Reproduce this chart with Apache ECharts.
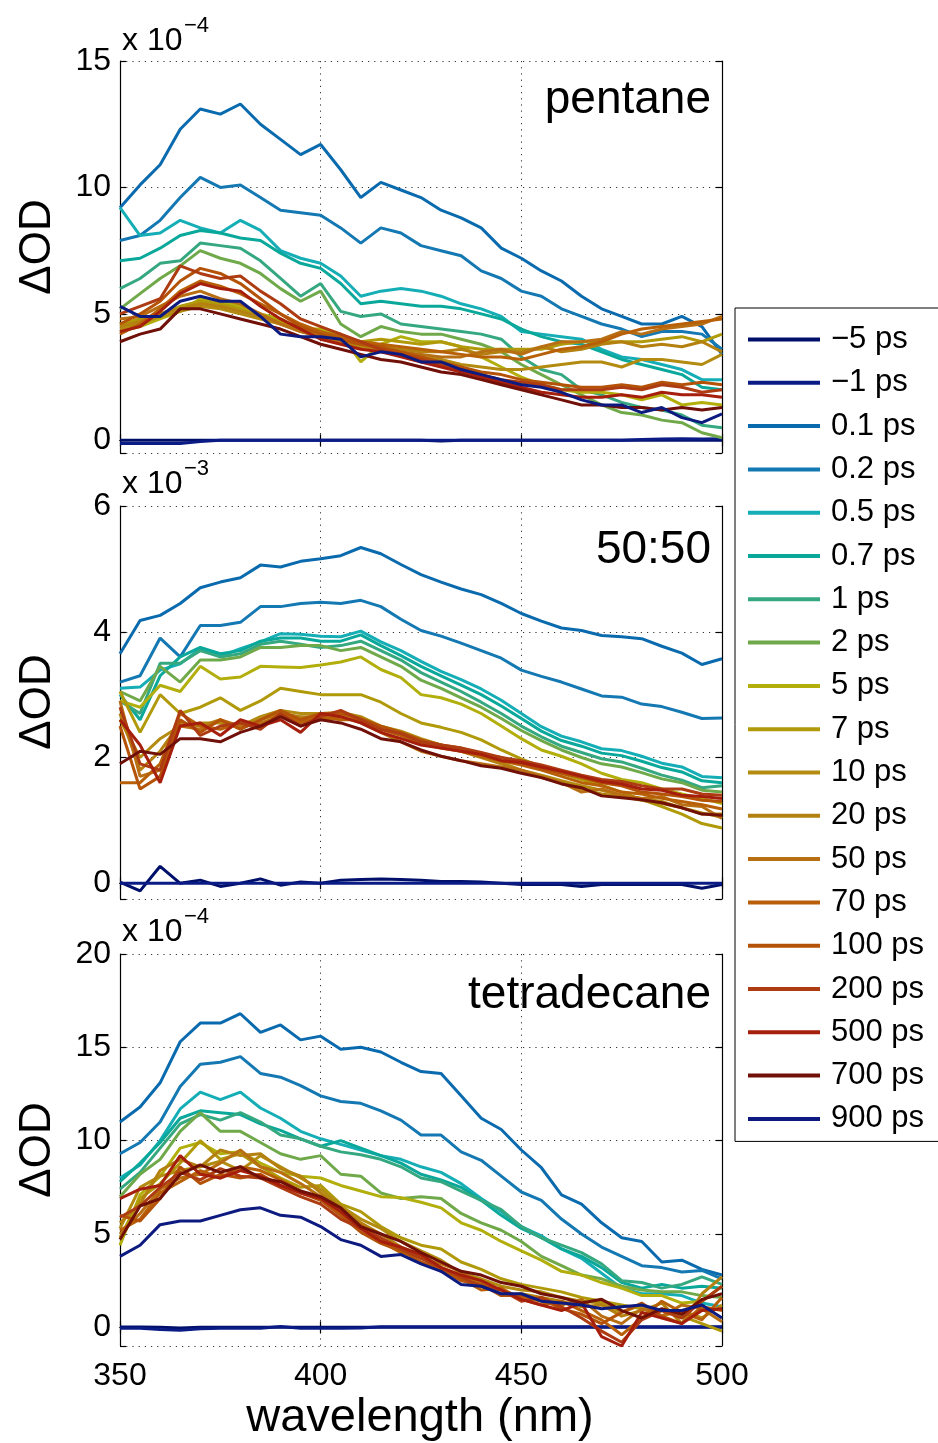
<!DOCTYPE html>
<html><head><meta charset="utf-8">
<script src="https://cdn.jsdelivr.net/npm/echarts@6/dist/echarts.min.js"></script>
<style>html,body{margin:0;padding:0;background:#fff}#c{width:938px;height:1443px}</style>
</head><body><div id="c"></div><script>
// ---------- data ----------
const wavelengths = [350,355,360,365,370,375,380,385,390,395,400,405,410,415,420,425,430,435,440,445,450,455,460,465,470,475,480,485,490,495,500];
const delayLabels = ['\u22125 ps','\u22121 ps','0.1 ps','0.2 ps','0.5 ps','0.7 ps','1 ps','2 ps','5 ps','7 ps','10 ps','20 ps','50 ps','70 ps','100 ps','200 ps','500 ps','700 ps','900 ps'];
const seriesColors = ['#00106a','#0b1b85','#0a6aae','#1478b2','#16aeb6','#0aa89a','#35a880','#70a94a','#b2ae0c','#b09a0a','#b28b10','#b48010','#b86e12','#b86008','#b45308','#ae3c12','#a61e0c','#701008','#0d1a80'];
const panelNames = ['pentane','50:50','tetradecane'];
const panelExponents = ['\u22124','\u22123','\u22124'];
const xTicks = [350,400,450,500];

// pentane (x 1e-4)
const pentane_m5 = [0,0,0,0,0,0,0,0,0,0,0,0,0,0,0,0,-0.03,0,0,0,0,0,0,0,0,0,0,0,0,0,0];
const pentane_m1 = [-0.12,-0.12,-0.12,-0.12,-0.05,0,0,0,0,0,0,0,0,0,0,0,0,0,0,0,0,0,0,0,0,0,0.03,0.05,0.06,0.05,0.06];
const pentane_01 = [9.2,10.1,10.9,12.3,13.1,12.9,13.3,12.5,11.9,11.3,11.7,10.7,9.6,10.2,9.9,9.6,9.1,8.8,8.4,7.6,7.2,6.7,6.3,5.7,5.2,4.9,4.6,4.6,4.9,4.5,3.4];
const pentane_02 = [7.9,8.1,8.7,9.6,10.4,10.0,10.1,9.6,9.1,9.0,8.9,8.4,7.8,8.4,8.2,7.7,7.5,7.3,6.7,6.4,5.9,5.7,5.2,4.9,4.6,4.4,4.1,4.3,4.3,4.2,3.6];
const pentane_05 = [9.2,8.1,8.2,8.7,8.4,8.2,8.7,8.3,7.5,7.2,7.0,6.5,5.7,5.9,6.0,5.9,5.7,5.4,5.2,4.9,4.3,4.2,4.1,4.0,3.6,3.3,3.2,3.0,2.8,2.4,2.4];
const pentane_07 = [7.1,7.2,7.6,8.1,8.3,8.2,8.0,7.9,7.4,7.0,6.8,6.2,5.4,5.5,5.4,5.3,5.3,5.2,5.0,4.8,4.4,4.1,3.9,3.8,3.5,3.2,3.0,2.8,2.6,2.1,2.0];
const pentane_1 = [6.0,6.4,7.0,7.1,7.8,7.7,7.6,7.1,6.4,5.7,6.2,5.1,4.9,5.0,4.6,4.5,4.4,4.3,4.2,4.0,3.3,2.8,2.6,2.0,1.8,1.5,1.3,1.2,1.0,0.6,0.5];
const pentane_2 = [5.2,5.8,6.4,6.9,7.5,7.2,7.0,6.6,6.0,5.5,5.9,4.6,4.1,4.5,4.3,4.2,4.2,4.0,3.8,3.5,3.0,2.6,2.2,1.8,1.4,1.1,1.0,0.8,0.7,0.3,0.1];
const pentane_5 = [4.3,4.5,4.8,5.1,5.6,5.5,5.3,5.0,4.8,4.4,4.4,4.2,3.1,3.8,4.1,3.9,3.9,3.7,3.3,2.9,2.5,2.2,2.0,1.9,1.9,1.8,1.6,1.8,1.4,1.5,1.4];
const pentane_7 = [4.6,4.8,5.0,5.3,5.5,5.4,5.2,4.9,4.7,4.5,4.3,4.1,3.9,4.0,3.9,3.8,3.9,3.7,3.6,3.6,3.6,3.6,3.8,3.9,3.9,3.9,3.9,4.0,4.1,3.9,4.2];
const pentane_10 = [4.4,4.6,4.9,5.1,5.3,5.2,5.0,4.8,4.6,4.3,4.1,3.9,3.7,3.6,3.4,3.3,3.2,3.0,2.9,2.8,2.8,2.9,3.0,3.1,3.1,2.9,3.2,3.2,3.1,3.0,3.4];
const pentane_20 = [4.5,4.7,5.0,5.2,5.4,5.3,5.1,4.9,4.6,4.4,4.2,4.0,3.8,3.7,3.6,3.5,3.5,3.6,3.4,3.5,3.5,3.7,3.5,3.6,3.8,3.9,3.7,3.8,3.7,3.9,3.5];
const pentane_50 = [4.8,4.9,5.3,5.7,5.9,5.6,5.4,5.0,4.6,4.3,4.1,3.9,3.8,3.6,3.5,3.4,3.3,3.3,3.5,3.6,3.4,3.7,3.9,3.9,4.0,4.3,4.2,4.4,4.5,4.6,4.9];
const pentane_70 = [4.2,4.6,5.2,5.9,6.3,6.1,5.8,5.4,5.0,4.6,4.3,4.1,3.9,3.8,3.7,3.6,3.5,3.4,3.3,3.3,3.2,3.4,3.6,3.7,3.9,4.2,4.4,4.5,4.6,4.7,4.8];
const pentane_100 = [4.6,5.0,5.5,6.3,6.8,6.6,6.2,5.6,5.0,4.5,4.2,4.0,3.8,3.7,3.5,3.3,3.1,2.9,2.7,2.6,2.4,2.3,2.2,2.1,2.1,2.2,2.1,2.3,2.2,2.3,2.2];
const pentane_200 = [5.0,5.3,5.6,6.9,6.6,6.4,6.5,5.9,5.4,4.8,4.5,4.2,3.9,3.6,3.4,3.2,3.0,2.8,2.6,2.4,2.3,2.2,2.0,2.0,2.0,2.1,2.0,2.2,2.1,1.9,2.0];
const pentane_500 = [4.3,4.5,5.1,5.8,6.2,6.0,5.9,5.3,4.8,4.4,4.0,3.8,3.6,3.5,3.3,3.1,2.9,2.7,2.5,2.3,2.1,1.9,1.8,1.7,1.7,1.8,1.7,1.9,1.8,1.8,1.7];
const pentane_700 = [3.9,4.2,4.4,5.2,5.2,5.0,4.8,4.6,4.4,4.1,3.8,3.6,3.4,3.2,3.1,2.9,2.7,2.6,2.4,2.2,2.0,1.8,1.6,1.4,1.4,1.3,1.3,1.2,1.3,1.2,1.3];
const pentane_900 = [5.3,4.9,4.9,5.5,5.7,5.5,5.5,4.9,4.2,4.1,4.1,4.0,3.3,3.5,3.4,3.1,3.1,2.8,2.6,2.4,2.2,2.1,1.9,1.6,1.4,1.4,1.1,1.3,0.9,0.7,1.05];

// 50:50 (x 1e-3)
const mix_m5 = [0.02,-0.12,0.27,0.0,0.05,-0.05,0.0,0.07,-0.03,0.02,0.0,0.05,0.06,0.07,0.06,0.05,0.03,0.03,0.02,0.0,-0.02,-0.02,-0.02,-0.05,-0.02,-0.02,-0.02,-0.02,-0.02,-0.08,-0.02];
const mix_m1 = [0,0,0,0,0,0,0,0,0,0,0,0,0,0,0,0,0,0,0,0,0,0,0,0,0,0,0,0,0,0,0];
const mix_01 = [3.65,4.18,4.26,4.45,4.70,4.79,4.86,5.06,5.03,5.12,5.16,5.21,5.34,5.24,5.07,4.91,4.79,4.68,4.59,4.45,4.29,4.17,4.06,4.02,3.94,3.92,3.89,3.77,3.66,3.48,3.57];
const mix_02 = [3.2,3.3,3.9,3.6,4.1,4.1,4.15,4.4,4.4,4.45,4.47,4.45,4.5,4.4,4.2,4.02,3.93,3.82,3.70,3.58,3.39,3.29,3.20,3.09,2.98,2.96,2.85,2.81,2.72,2.62,2.63];
const mix_05 = [3.1,3.12,3.39,3.49,3.73,3.61,3.73,3.84,3.97,3.96,3.93,3.92,4.01,3.84,3.70,3.53,3.37,3.24,3.09,2.91,2.70,2.49,2.34,2.25,2.14,2.11,2.02,1.91,1.85,1.70,1.68];
const mix_07 = [3.0,2.6,3.3,3.6,3.75,3.65,3.7,3.85,3.9,3.9,3.85,3.85,3.95,3.78,3.62,3.45,3.3,3.15,3.0,2.82,2.62,2.42,2.27,2.18,2.07,2.03,1.94,1.84,1.77,1.63,1.6];
const mix_1 = [2.9,2.7,3.5,3.5,3.7,3.6,3.65,3.8,3.85,3.8,3.75,3.78,3.85,3.7,3.55,3.35,3.2,3.05,2.88,2.7,2.5,2.33,2.18,2.08,1.98,1.93,1.83,1.72,1.64,1.52,1.55];
const mix_2 = [3.05,2.9,3.45,3.2,3.55,3.55,3.6,3.75,3.75,3.78,3.78,3.7,3.75,3.6,3.45,3.23,3.1,2.95,2.8,2.62,2.43,2.27,2.12,2.0,1.9,1.85,1.76,1.66,1.6,1.48,1.45];
const mix_5 = [2.9,2.8,3.15,3.05,3.45,3.25,3.28,3.45,3.44,3.43,3.47,3.52,3.6,3.4,3.27,3.0,2.95,2.85,2.7,2.5,2.3,2.12,2.02,1.9,1.75,1.65,1.6,1.5,1.42,1.35,1.27];
const mix_7 = [3.05,2.4,3.0,2.7,2.8,2.95,2.75,2.9,3.1,3.05,3.0,3.0,3.0,2.88,2.7,2.55,2.48,2.4,2.28,2.12,1.98,1.85,1.75,1.65,1.56,1.45,1.33,1.22,1.1,0.95,0.88];
const mix_10 = [2.6,2.0,2.3,2.5,2.55,2.55,2.5,2.65,2.75,2.7,2.7,2.72,2.65,2.5,2.42,2.3,2.2,2.12,2.02,1.92,1.8,1.72,1.63,1.55,1.48,1.4,1.35,1.3,1.2,1.12,1.05];
const mix_20 = [2.7,1.8,2.1,2.55,2.5,2.6,2.45,2.6,2.7,2.65,2.65,2.7,2.6,2.5,2.4,2.28,2.2,2.1,2.0,1.9,1.8,1.68,1.6,1.5,1.42,1.38,1.32,1.27,1.2,1.1,1.1];
const mix_50 = [2.9,1.7,1.8,2.5,2.45,2.6,2.5,2.55,2.65,2.6,2.6,2.65,2.55,2.4,2.25,2.1,2.02,1.95,1.9,1.85,1.8,1.7,1.6,1.45,1.5,1.4,1.35,1.38,1.25,1.22,1.03];
const mix_70 = [1.6,1.6,1.9,2.7,2.5,2.45,2.55,2.5,2.7,2.55,2.65,2.6,2.6,2.45,2.35,2.22,2.15,2.1,2.02,1.95,1.88,1.8,1.7,1.6,1.55,1.45,1.42,1.35,1.3,1.25,1.18];
const mix_100 = [2.5,1.5,1.7,2.6,2.4,2.6,2.45,2.6,2.75,2.6,2.7,2.7,2.62,2.5,2.4,2.28,2.2,2.15,2.05,2.0,1.9,1.82,1.75,1.68,1.6,1.55,1.45,1.42,1.38,1.32,1.3];
const mix_200 = [2.8,1.9,1.8,2.75,2.35,2.5,2.55,2.45,2.7,2.5,2.65,2.75,2.6,2.45,2.38,2.25,2.2,2.15,2.08,2.0,1.95,1.88,1.8,1.72,1.65,1.62,1.55,1.5,1.5,1.42,1.4];
const mix_500 = [2.6,2.2,1.6,2.5,2.55,2.35,2.6,2.5,2.6,2.4,2.7,2.65,2.55,2.4,2.3,2.2,2.15,2.1,2.05,1.95,1.92,1.85,1.78,1.7,1.62,1.58,1.5,1.48,1.4,1.38,1.35];
const mix_700 = [1.9,2.1,2.05,2.3,2.3,2.25,2.4,2.5,2.65,2.5,2.6,2.55,2.45,2.3,2.25,2.12,2.02,1.95,1.87,1.83,1.75,1.68,1.58,1.52,1.39,1.36,1.33,1.28,1.2,1.1,1.08];
const mix_900 = null; // not measured in this panel

// tetradecane (x 1e-4)
const tetradecane_m5 = [0.02,0.02,0,-0.03,0,0,0,0,0,0,0,0,0,0,0,0,0,0,0,0,0,0,0,0,0,0,0,0,0,0,0];
const tetradecane_m1 = [-0.05,-0.05,-0.12,-0.15,-0.08,-0.05,-0.05,-0.05,0.05,-0.05,-0.05,-0.05,-0.03,0.03,0.03,0.03,0.03,0.03,0.03,0.03,0.03,0.03,0.03,0.03,0.03,0.03,0.03,0.03,0.03,0.03,0.03];
const tetradecane_01 = [11.0,11.8,13.1,15.3,16.3,16.3,16.8,15.8,16.2,15.4,15.6,14.9,15.0,14.75,14.2,13.7,13.6,12.4,11.2,10.6,9.5,8.55,7.1,6.6,5.6,4.8,4.6,3.5,3.6,3.1,2.8];
const tetradecane_02 = [9.3,9.9,11.0,12.9,14.1,14.2,14.5,13.6,13.4,12.95,12.4,12.1,12.0,11.6,11.1,10.3,10.3,9.4,8.95,8.1,7.25,6.8,5.8,5.0,4.3,3.8,3.3,3.2,2.96,3.05,2.6];
const tetradecane_05 = [8.0,8.7,10.0,11.7,12.6,12.2,12.6,11.75,11.2,10.5,10.1,9.8,9.5,9.2,9.0,8.6,8.3,7.7,6.9,6.2,5.4,4.9,4.2,3.7,2.9,2.1,1.8,1.8,1.7,1.3,1.1];
const tetradecane_07 = [7.8,8.8,9.9,11.2,11.6,11.5,11.4,10.9,10.55,10.1,9.7,10.0,9.6,9.2,8.8,8.2,7.9,7.5,6.8,6.0,5.3,4.8,4.2,3.8,3.2,2.4,2.1,2.3,2.1,2.2,2.1];
const tetradecane_1 = [7.4,8.3,9.6,10.9,11.4,11.1,11.5,11.0,10.3,10.1,9.7,9.4,9.25,9.0,8.6,8.0,7.8,7.3,6.8,6.3,5.4,4.8,4.4,4.0,3.4,2.5,2.4,2.1,2.3,2.7,2.3];
const tetradecane_2 = [7.0,8.2,9.0,10.5,11.5,10.5,10.5,9.9,9.3,9.0,9.2,8.2,8.1,7.2,6.9,7.0,6.9,6.1,5.6,5.2,4.6,3.8,3.3,2.8,2.6,2.2,2.0,1.9,1.9,1.7,1.6];
const tetradecane_5 = [4.4,7.1,8.1,9.6,9.9,9.3,9.4,8.8,8.3,8.1,8.0,7.6,7.3,7.0,6.95,6.7,6.4,5.6,5.2,4.6,4.1,3.6,3.0,2.8,2.4,2.1,1.7,1.7,1.3,1.4,2.2];
const tetradecane_7 = [4.8,6.9,7.7,8.8,10.0,9.0,9.3,8.6,8.0,7.5,7.6,6.6,6.2,5.4,4.8,4.4,4.2,3.5,3.1,2.6,2.3,2.1,1.9,1.6,1.4,1.2,1.0,0.9,0.6,0.2,-0.2];
const tetradecane_10 = [5.3,7.5,8.1,8.4,8.6,8.9,8.4,9.2,8.6,8.0,7.4,6.5,5.8,5.3,4.6,4.1,3.6,2.9,2.6,2.2,2.0,1.9,1.6,1.4,1.3,0.8,1.2,0.6,0.9,0.5,1.2];
const tetradecane_20 = [5.6,6.6,8.4,9.0,8.6,9.5,9.2,9.3,8.5,8.1,7.2,6.4,5.6,5.0,4.3,3.9,3.2,2.8,2.4,1.7,1.8,1.6,1.4,1.1,1.2,0.6,0.9,1.3,0.2,1.8,2.7];
const tetradecane_50 = [5.0,6.1,7.4,8.0,8.2,8.8,9.5,8.6,8.3,7.7,7.0,6.2,5.5,4.7,4.2,3.7,3.4,3.0,2.3,2.0,1.6,1.4,1.2,1.5,0.6,0.2,1.0,0.6,1.2,1.0,0.3];
const tetradecane_70 = [5.2,5.8,7.2,7.8,8.4,8.0,8.6,8.4,7.9,7.3,6.9,6.1,5.4,4.6,4.0,3.8,3.0,2.6,2.0,2.1,1.5,1.2,1.4,0.9,0.4,-0.4,0.5,1.4,0.8,0.4,1.6];
const tetradecane_100 = [6.0,5.7,6.9,8.6,7.7,8.2,8.0,8.2,7.6,7.2,6.8,6.0,5.1,4.5,4.1,3.5,3.1,2.5,2.3,1.7,1.7,1.5,1.0,0.7,0.2,0.8,1.3,0.6,0.2,1.1,0.9];
const tetradecane_200 = [5.9,6.5,7.5,8.3,7.9,8.5,8.1,8.0,7.5,7.0,6.6,5.8,5.3,4.8,4.2,3.7,3.2,2.7,2.2,2.0,1.4,1.6,1.1,0.5,-0.2,-0.8,0.4,0.9,0.5,1.4,2.2];
const tetradecane_500 = [6.9,7.4,7.6,9.2,8.2,8.0,8.4,8.1,7.6,7.2,6.9,6.2,5.3,4.6,4.3,3.9,3.2,2.8,2.5,2.0,1.5,1.2,0.9,1.3,-0.5,-1.0,0.8,0.5,0.2,0.9,1.0];
const tetradecane_700 = [4.7,6.5,6.9,8.2,8.7,8.3,8.6,8.0,7.8,7.3,7.0,6.4,5.4,5.0,4.6,4.0,3.5,3.0,2.8,2.4,2.2,1.8,1.6,1.3,1.5,0.9,0.5,1.0,0.7,1.5,1.8];
const tetradecane_900 = [3.8,4.4,5.5,5.7,5.7,6.0,6.3,6.4,6.0,5.9,5.4,4.7,4.4,3.8,3.9,3.4,3.0,2.3,2.2,1.8,1.8,1.4,1.3,1.2,1.0,1.1,1.2,0.9,0.9,1.2,0.5];

const pentaneSeries = [pentane_m5,pentane_m1,pentane_01,pentane_02,pentane_05,pentane_07,pentane_1,pentane_2,pentane_5,pentane_7,pentane_10,pentane_20,pentane_50,pentane_70,pentane_100,pentane_200,pentane_500,pentane_700,pentane_900];
const mixSeries = [mix_m5,mix_m1,mix_01,mix_02,mix_05,mix_07,mix_1,mix_2,mix_5,mix_7,mix_10,mix_20,mix_50,mix_70,mix_100,mix_200,mix_500,mix_700,mix_900];
const tetradecaneSeries = [tetradecane_m5,tetradecane_m1,tetradecane_01,tetradecane_02,tetradecane_05,tetradecane_07,tetradecane_1,tetradecane_2,tetradecane_5,tetradecane_7,tetradecane_10,tetradecane_20,tetradecane_50,tetradecane_70,tetradecane_100,tetradecane_200,tetradecane_500,tetradecane_700,tetradecane_900];
const yRanges = [[-0.5,15,5],[-0.25,6,2],[-1,20,5]];

// ---------- chart ----------
const FONT = '"Liberation Sans", Arial, Helvetica, sans-serif';
const grids = [
  {left:120, top:61, width:602, height:392},
  {left:120, top:506, width:602, height:393},
  {left:120, top:954, width:602, height:392}
];
const panelSets = [pentaneSeries, mixSeries, tetradecaneSeries];

const xAxes = [], yAxes = [], series = [], graphics = [];
grids.forEach((g, p) => {
  const base = {gridIndex:p, type:'value', min:350, max:500, interval:50};
  xAxes.push(Object.assign({}, base, {
    position:'bottom',
    axisLine:{show:true, lineStyle:{color:'#000', width:1.2}},
    axisTick:{show:true, inside:true, length:6, lineStyle:{color:'#000', width:1.2}},
    axisLabel:{show:p===2, color:'#000', fontSize:32, fontFamily:FONT, margin:14},
    splitLine:{show:true, lineStyle:{color:'#333', width:1, type:[1.2,5]}}
  }));
  const [ymin, ymax, step] = yRanges[p];
  const isStep = v => Math.abs(v/step - Math.round(v/step)) < 1e-6;
  yAxes.push({
    gridIndex:p, type:'value', min:ymin, max:ymax, minInterval:step, maxInterval:step, splitNumber:3,
    position:'left',
    axisLine:{show:true, lineStyle:{color:'#000', width:1.2}},
    axisTick:{show:true, inside:true, length:6, lineStyle:{color:'#000', width:1.2}},
    axisLabel:{color:'#000', fontSize:32, fontFamily:FONT, margin:9, formatter: v => isStep(v) ? String(Math.round(v)) : ''},
    splitLine:{show:true, lineStyle:{color:'#333', width:1, type:[1.2,5]}}
  });
});
// mirrored axes (top / right) for the box ticks
grids.forEach((g, p) => {
  xAxes.push({gridIndex:p, type:'value', min:350, max:500, interval:50, position:'top',
    axisLine:{show:true, lineStyle:{color:'#000', width:1.2}},
    axisTick:{show:true, inside:true, length:6, lineStyle:{color:'#000', width:1.2}},
    axisLabel:{show:false}, splitLine:{show:false}});
  const [ymin, ymax, step] = yRanges[p];
  yAxes.push({gridIndex:p, type:'value', min:ymin, max:ymax, minInterval:step, maxInterval:step, splitNumber:3, position:'right',
    axisLine:{show:true, lineStyle:{color:'#000', width:1.2}},
    axisTick:{show:true, inside:true, length:6, lineStyle:{color:'#000', width:1.2}},
    axisLabel:{show:false}, splitLine:{show:false}});
});

panelSets.forEach((set, p) => {
  set.forEach((vals, i) => {
    if (!vals) return;
    series.push({
      type:'line', name:delayLabels[i], xAxisIndex:p, yAxisIndex:p,
      data: wavelengths.map((w, k) => [w, vals[k]]),
      symbol:'none', color:seriesColors[i],
      lineStyle:{width:3, color:seriesColors[i]},
      clip:true, silent:true, z:2+i*0.01
    });
  });
});

const expY = [41, 484, 932];
const nameY = [100, 550, 995];
const odY = [247, 702, 1150];
grids.forEach((g, p) => {
  graphics.push({type:'text', x:122, y:expY[p], style:{text:'x 10', fontSize:32, fontFamily:FONT, fill:'#000', textAlign:'left', textVerticalAlign:'middle'}});
  graphics.push({type:'text', x:184, y:expY[p]-15, style:{text:panelExponents[p], fontSize:22, fontFamily:FONT, fill:'#000', textAlign:'left', textVerticalAlign:'middle'}});
  graphics.push({type:'text', x:711, y:nameY[p], style:{text:panelNames[p], fontSize:46, fontFamily:FONT, fill:'#000', textAlign:'right', textVerticalAlign:'middle'}});
  graphics.push({type:'text', x:38, y:odY[p], rotation:Math.PI/2, style:{text:'\u0394OD', fontSize:44, fontFamily:FONT, fill:'#000', textAlign:'center', textVerticalAlign:'middle'}});
});
graphics.push({type:'text', x:420, y:1418, style:{text:'wavelength (nm)', fontSize:47, fontFamily:FONT, fill:'#000', textAlign:'center', textVerticalAlign:'middle'}});

const chart = echarts.init(document.getElementById('c'), null, {renderer:'canvas'});
chart.setOption({
  animation:false,
  backgroundColor:'#fff',
  textStyle:{fontFamily:FONT},
  grid: grids,
  xAxis: xAxes,
  yAxis: yAxes,
  legend:{
    orient:'vertical', left:735, top:308, data:delayLabels, icon:'rect',
    itemWidth:72, itemHeight:4, itemGap:12.3, padding:[16,20,7,13],
    borderColor:'#000', borderWidth:1, backgroundColor:'#fff',
    selectedMode:false,
    textStyle:{fontSize:31, lineHeight:31, fontFamily:FONT, color:'#000', padding:[0,0,0,6]}
  },
  series: series,
  graphic: graphics
});
</script></body></html>
